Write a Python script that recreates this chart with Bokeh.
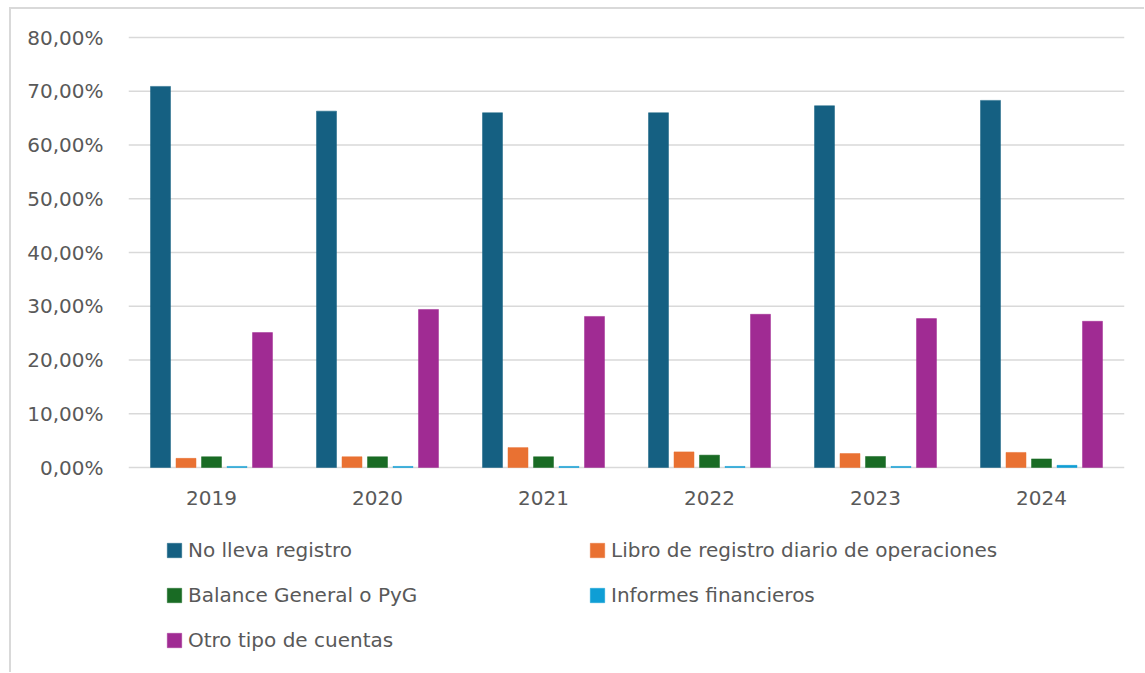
from bokeh.plotting import figure
from bokeh.models import ColumnDataSource, FactorRange, FixedTicker, Legend, LegendItem, Range1d
from bokeh.transform import dodge
from bokeh.embed import file_html
from bokeh.resources import INLINE

years = ["2019", "2020", "2021", "2022", "2023", "2024"]
no_lleva = [70.9, 66.3, 66.0, 66.0, 67.3, 68.3]
libro = [1.7, 2.0, 3.7, 2.9, 2.6, 2.8]
balance = [2.0, 2.0, 2.0, 2.3, 2.05, 1.6]
informes = [0.2, 0.2, 0.2, 0.2, 0.2, 0.4]
otro = [25.1, 29.4, 28.1, 28.5, 27.7, 27.2]

series_names = ["No lleva registro", "Libro de registro diario de operaciones",
                "Balance General o PyG", "Informes financieros", "Otro tipo de cuentas"]
colors = ["#156082", "#E97132", "#196B24", "#0F9ED5", "#A02B93"]
y_ticks = [0, 10, 20, 30, 40, 50, 60, 70, 80]
y_tick_labels = ["0,00%", "10,00%", "20,00%", "30,00%", "40,00%", "50,00%", "60,00%", "70,00%", "80,00%"]

FONT = "DejaVu Sans"
TXT = "#595959"
GRID = "#d9d9d9"

source = ColumnDataSource(dict(year=years, no_lleva=no_lleva, libro=libro,
                               balance=balance, informes=informes, otro=otro))

# canvas origin at page (11, 9)
OX, OY = 11, 9
W, H = 1133, 663
F_LEFT, F_RIGHT, Y80, F_ZERO, F_BOTTOM = 128, 1124, 37, 467, 665
F_TOP = Y80 - 3
ppu = (F_ZERO - Y80) / 80.0
y_start = -(F_BOTTOM - F_ZERO) / ppu
y_end = 80 + (Y80 - F_TOP) / ppu

p = figure(x_range=FactorRange(*years), y_range=Range1d(y_start, y_end),
           frame_width=F_RIGHT - F_LEFT, frame_height=F_BOTTOM - F_TOP,
           output_backend="svg", toolbar_location=None, tools="")
p.min_border_left = F_LEFT - OX
p.min_border_right = W - (F_RIGHT - OX)
p.min_border_top = F_TOP - OY
p.min_border_bottom = H - (F_BOTTOM - OY)
p.outline_line_color = None
p.margin = (7, 0, 0, 9)
p.styles = {"border-left": "2px solid #d9d9d9", "border-top": "2px solid #d9d9d9"}

# horizontal grid lines spanning the category axis (first to last category edge)
grid_src = ColumnDataSource(dict(first=[years[0]] * len(y_ticks), last=[years[-1]] * len(y_ticks),
                                 y=y_ticks))
p.segment(x0=dodge("first", -0.5, range=p.x_range), x1=dodge("last", 0.5, range=p.x_range),
          y0="y", y1="y", source=grid_src, line_color=GRID, line_width=1.5)

step = 0.1536
bw = 0.1205
keys = ["no_lleva", "libro", "balance", "informes", "otro"]
renderers = []
for i, (k, c) in enumerate(zip(keys, colors)):
    r = p.vbar(x=dodge("year", (i - 2) * step, range=p.x_range), top=k, width=bw,
               source=source, fill_color=c, line_color=c, line_width=0.5)
    renderers.append(r)

p.xgrid.grid_line_color = None
p.ygrid.grid_line_color = None

p.yaxis.ticker = FixedTicker(ticks=y_ticks)
p.yaxis.major_label_overrides = {t: l for t, l in zip(y_ticks, y_tick_labels)}
p.yaxis.axis_line_color = None
p.yaxis.major_tick_line_color = None
p.yaxis.minor_tick_line_color = None
p.yaxis.major_tick_out = 0
p.yaxis.major_label_standoff = 25
p.yaxis.major_label_text_font = FONT
p.yaxis.major_label_text_font_size = "20px"
p.yaxis.major_label_text_color = TXT

p.xaxis.visible = False

# category labels under the baseline
p.text(x=years, y=[0] * len(years), text=years, y_offset=30,
       text_align="center", text_baseline="middle",
       text_font={"value": FONT}, text_font_size="20px", text_color=TXT)

GW = 18


def make_legend(idx, loc):
    lg = Legend(items=[LegendItem(label=series_names[i], renderers=[renderers[i]]) for i in idx],
                location=loc, orientation="vertical")
    lg.border_line_color = None
    lg.background_fill_alpha = 0
    lg.padding = 0
    lg.margin = 0
    lg.spacing = 0
    lg.glyph_width = GW
    lg.glyph_height = GW
    lg.label_height = 45
    lg.label_standoff = 5
    lg.label_text_font = FONT
    lg.label_text_font_size = "20px"
    lg.label_text_color = TXT
    lg.label_text_baseline = "middle"
    return lg


p.add_layout(make_legend([0, 2, 4], (165 - F_LEFT, F_BOTTOM - 135 - 527.5)))
p.add_layout(make_legend([1, 3], (588 - F_LEFT, F_BOTTOM - 90 - 527.5)))

open("out.html", "w").write(file_html(p, INLINE))
